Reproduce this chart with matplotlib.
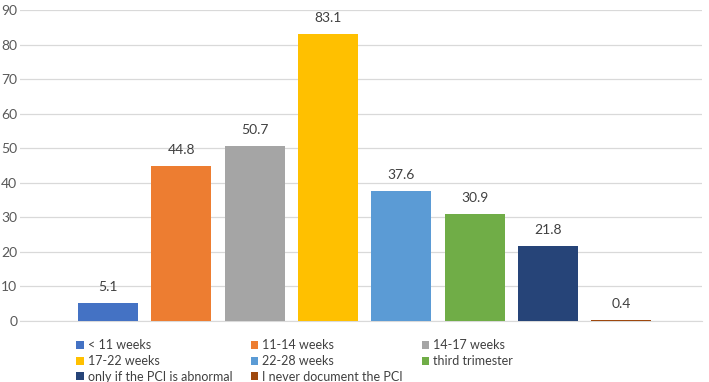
import matplotlib
matplotlib.use("Agg")
import matplotlib.pyplot as plt
from matplotlib.patches import Patch

categories = ["< 11 weeks", "11-14 weeks", "14-17 weeks", "17-22 weeks",
              "22-28 weeks", "third trimester", "only if the PCI is abnormal",
              "I never document the PCI"]
values = [5.1, 44.8, 50.7, 83.1, 37.6, 30.9, 21.8, 0.4]
colors = ["#4472C4", "#ED7D31", "#A5A5A5", "#FFC000", "#5B9BD5", "#70AD47",
          "#264478", "#9E480E"]
yticks = list(range(0, 100, 10))

plt.rcParams['font.family'] = ['Lato', 'DejaVu Sans']
fig = plt.figure(figsize=(7.09, 3.82), dpi=100)
ax = fig.add_axes([20/709, 61/382, 682/709, 311/382])

x = list(range(len(values)))
bars = ax.bar(x, values, width=0.82, color=colors, zorder=3)
for xi, v in zip(x, values):
    ax.text(xi, v + 4.6, f"{v}", ha="center", va="center", fontsize=10, color="#404040")

ax.set_ylim(0, 90)
ax.set_xlim(-1.2, 8.1)
ax.set_yticks(yticks)
ax.set_xticks([])
ax.yaxis.grid(True, color="#D9D9D9", linewidth=0.9, zorder=0)
for s in ["top", "right", "left"]:
    ax.spines[s].set_visible(False)
ax.spines["bottom"].set_color("#D9D9D9")
ax.tick_params(axis="y", length=0, labelsize=10, labelcolor="#595959", pad=2)

handles = [Patch(facecolor=c, edgecolor="none") for c in colors]
# reorder so legend reads row-major in 3 columns
order = [0, 3, 6, 1, 4, 7, 2, 5]
leg = fig.legend([handles[i] for i in order], [categories[i] for i in order],
                 ncol=3, loc="upper left", bbox_to_anchor=(70/709, 1 - 333/382),
                 frameon=False, fontsize=9, handlelength=0.6, handleheight=0.6,
                 handletextpad=0.3, columnspacing=1.5, labelspacing=0.3,
                 borderpad=0, labelcolor="#404040")

fig.savefig("out.png", dpi=100)
